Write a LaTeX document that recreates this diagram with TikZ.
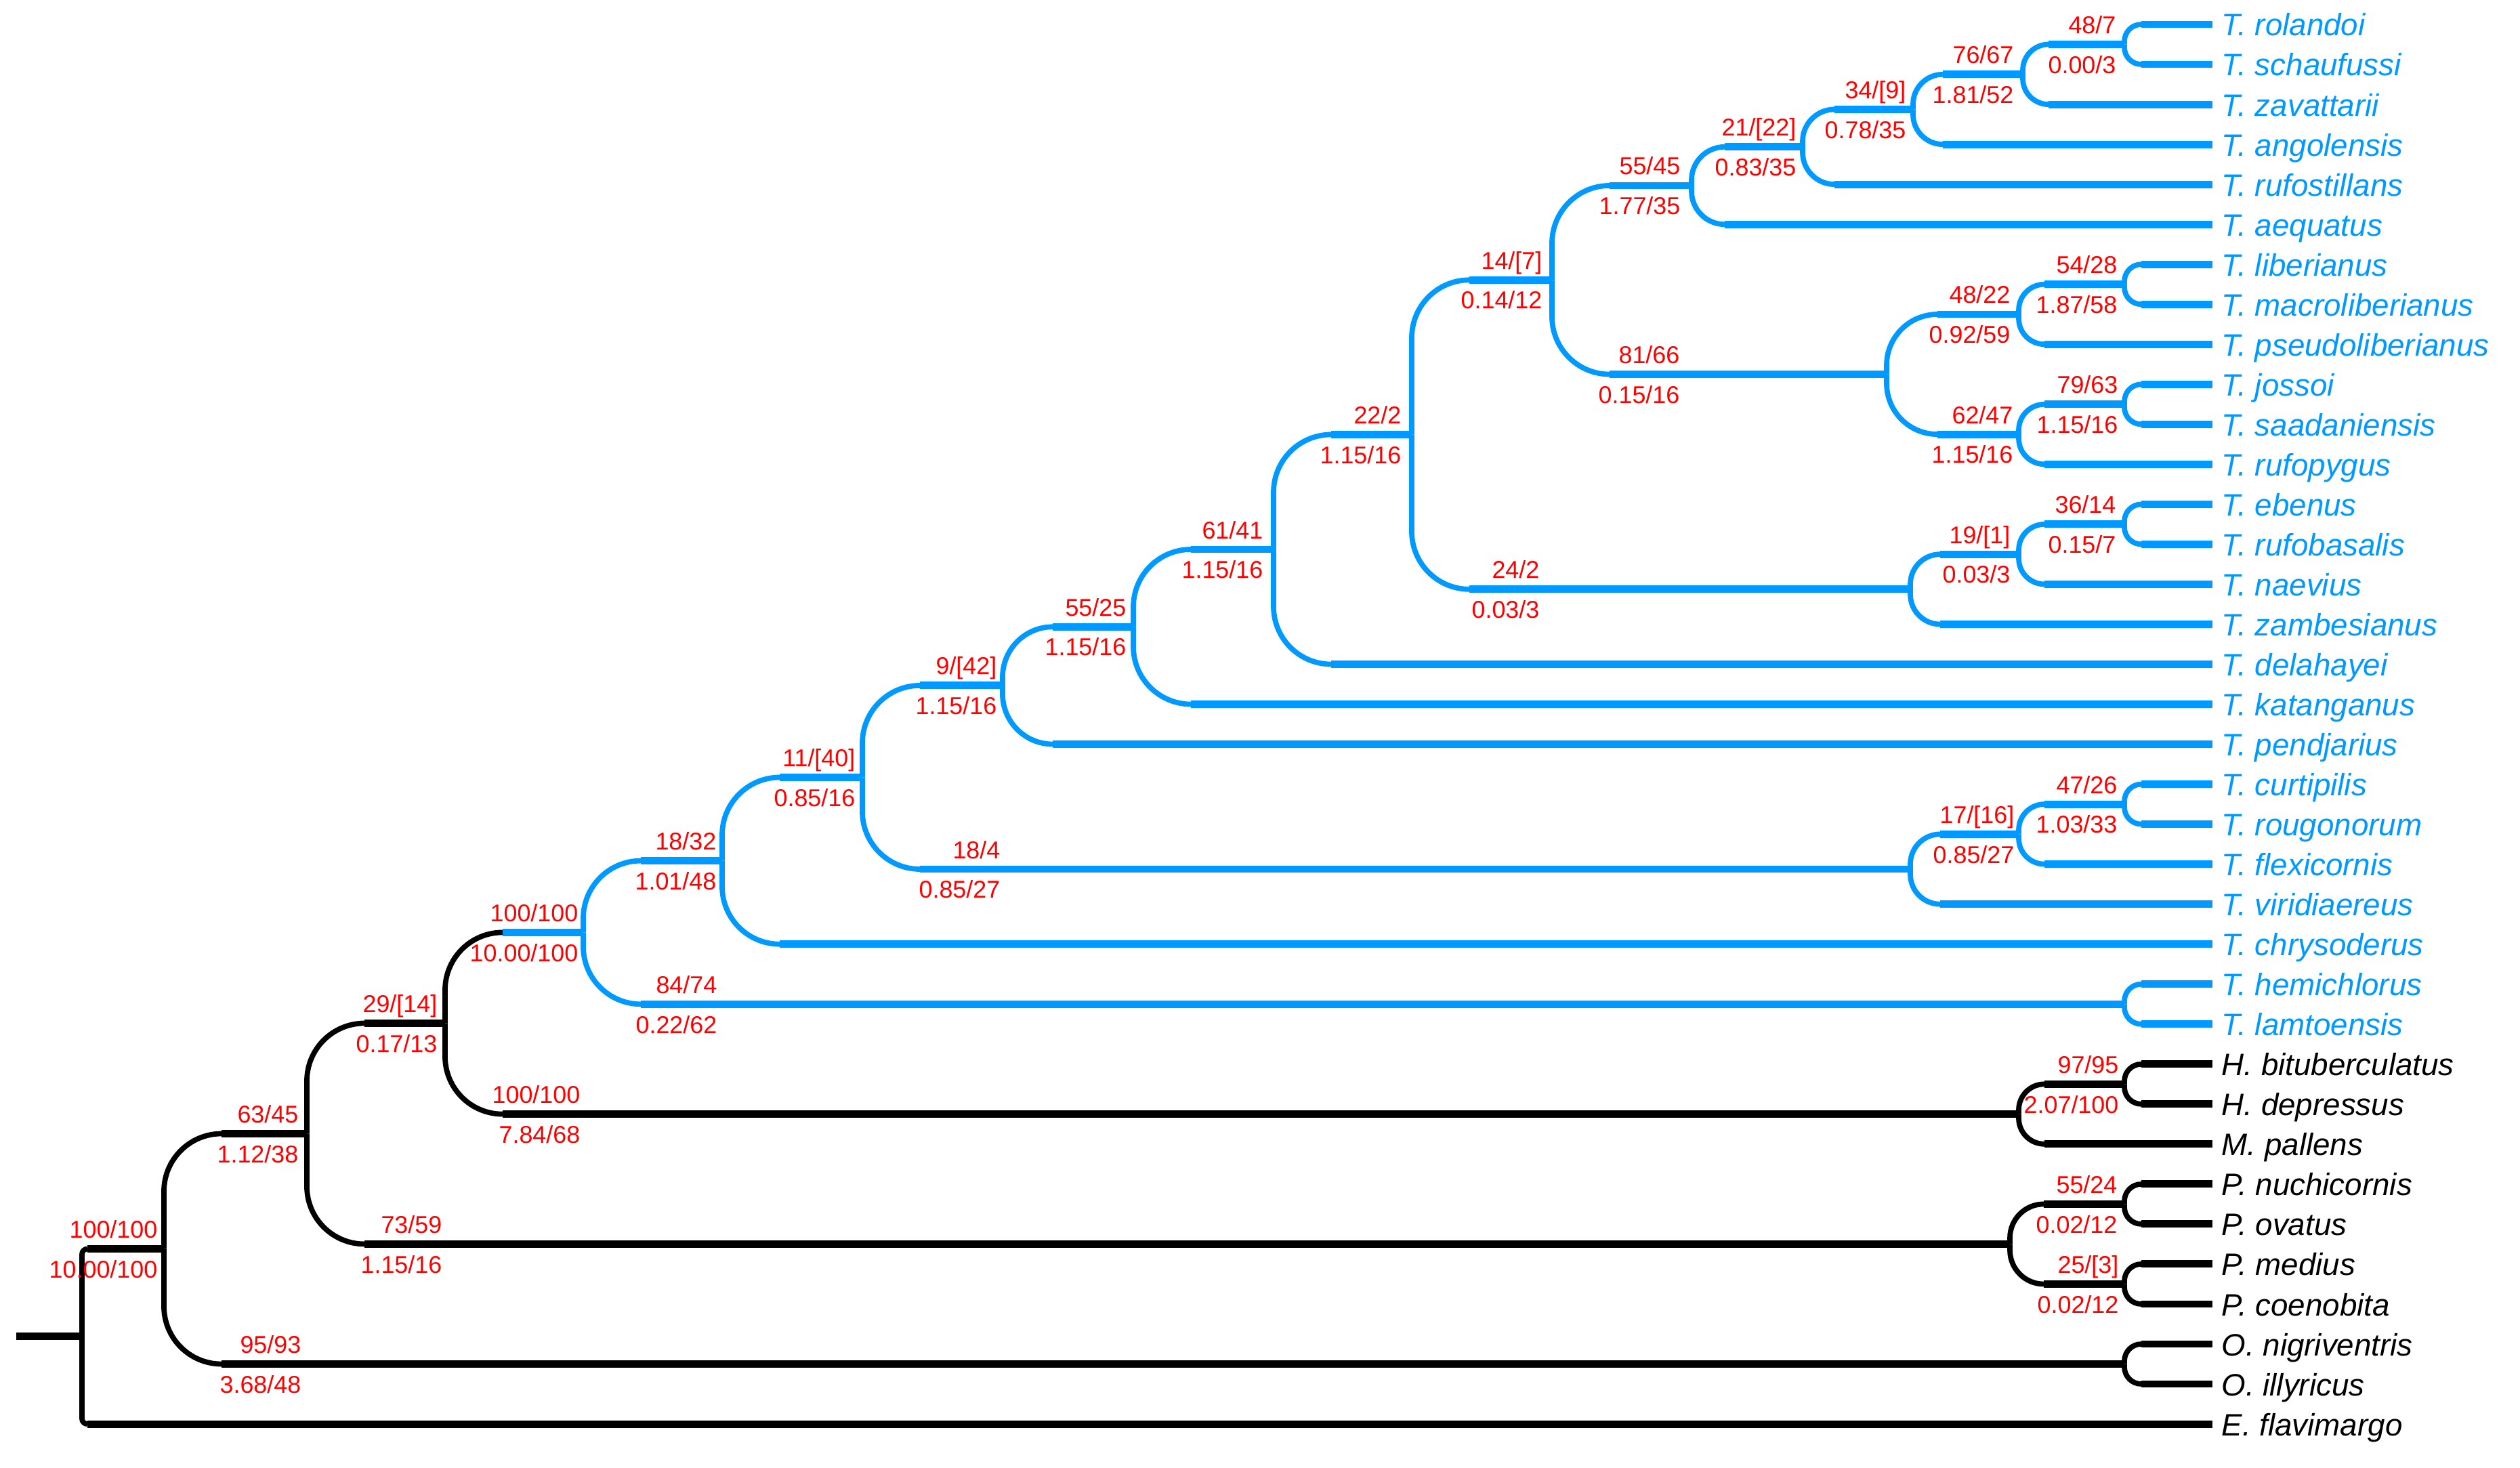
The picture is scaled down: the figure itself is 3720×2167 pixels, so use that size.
\documentclass[tikz,border=0pt]{standalone}
\usepackage{fontspec}
\setmainfont{Liberation Sans}
\usetikzlibrary{calc}
\definecolor{tblue}{RGB}{0,153,255}
\definecolor{tred}{RGB}{255,0,0}
\tikzset{
  vline/.style={line width=2.2pt},
  hline/.style={line width=3.1pt},
  lab/.style={text=tred, font=\fontsize{10.2}{12}\selectfont, inner sep=0pt},
  sp/.style={font=\fontsize{13}{15}\selectfont\itshape, inner sep=0pt, anchor=base west},
}
% branch: parent, child, radius (px), curve colour, straight colour
\newcommand\brnx[5]{%
  \draw[vline,#4,rounded corners={#3*0.01cm}] (#1) |- ($(#1 |- #2)+(#3,0)$);
  \draw[hline,#5] ($(#1 |- #2)+(#3,0)$) -- (#2);
}
\newcommand\brn[4]{\brnx{#1}{#2}{#3}{#4}{#4}}
% support labels: name, right-edge point on branch, top text, bottom text
\newcommand\lab[4]{%
  \node[lab,anchor=base east] (#1t) at ($#2+(0,-16)$) {#3};
  \node[lab,anchor=north east] (#1b) at ($#2+(0,16)$) {#4};
}
\begin{document}
\begin{tikzpicture}[x=0.01cm,y=-0.01cm]
\useasboundingbox (0,0) rectangle (3720,2167);
% leaves
\foreach \i/\yy/\nm/\c in {
 0/36.0/T. rolandoi/tblue, 1/95.0/T. schaufussi/tblue, 2/154.1/T. zavattarii/tblue,
 3/213.1/T. angolensis/tblue, 4/272.1/T. rufostillans/tblue, 5/331.2/T. aequatus/tblue,
 6/390.2/T. liberianus/tblue, 7/449.2/T. macroliberianus/tblue, 8/508.2/T. pseudoliberianus/tblue,
 9/567.3/T. jossoi/tblue, 10/626.3/T. saadaniensis/tblue, 11/685.3/T. rufopygus/tblue,
 12/744.4/T. ebenus/tblue, 13/803.4/T. rufobasalis/tblue, 14/862.4/T. naevius/tblue,
 15/921.5/T. zambesianus/tblue, 16/980.5/T. delahayei/tblue, 17/1039.5/T. katanganus/tblue,
 18/1098.5/T. pendjarius/tblue, 19/1157.6/T. curtipilis/tblue, 20/1216.6/T. rougonorum/tblue,
 21/1275.6/T. flexicornis/tblue, 22/1334.7/T. viridiaereus/tblue, 23/1393.7/T. chrysoderus/tblue,
 24/1452.7/T. hemichlorus/tblue, 25/1511.8/T. lamtoensis/tblue, 26/1570.8/H. bituberculatus/black,
 27/1629.8/H. depressus/black, 28/1688.8/M. pallens/black, 29/1747.9/P. nuchicornis/black,
 30/1806.9/P. ovatus/black, 31/1865.9/P. medius/black, 32/1925.0/P. coenobita/black,
 33/1984.0/O. nigriventris/black, 34/2043.0/O. illyricus/black, 35/2102.1/E. flavimargo/black}
{
  \coordinate (t\i) at (3266,\yy);
  \node[sp,text=\c] (L\i) at ($(t\i)+(13,17)$) {\nm};
}
% internal nodes
\coordinate (stub) at (24,1972.8);
\coordinate (root) at (121,1972.8);
\coordinate (nr) at (242,1843.5);
\coordinate (nq) at (453,1673.5);
\coordinate (no) at (657,1510.5);
\coordinate (nn) at (861,1376.4);
\coordinate (nm) at (1066,1270.6);
\coordinate (nl) at (1273,1147.5);
\coordinate (nj) at (1480,1011.9);
\coordinate (ni) at (1673,925.3);
\coordinate (nh) at (1880,811.0);
\coordinate (ng) at (2084,641.5);
\coordinate (ne) at (2291,413.3);
\coordinate (nc) at (2497,274.0);
\coordinate (nb) at (2661,216.8);
\coordinate (na) at (2824,161.45);
\coordinate (nrsz) at (2986,109.8);
\coordinate (nros) at (3136,65.5);
\coordinate (nd) at (2785,552.5);
\coordinate (nlib2) at (2980,464.0);
\coordinate (nlib) at (3136,419.7);
\coordinate (njos2) at (2980,641.1);
\coordinate (njos) at (3136,596.8);
\coordinate (nf) at (2820,869.8);
\coordinate (neb2) at (2980,818.2);
\coordinate (neb) at (3136,773.9);
\coordinate (nk) at (2820,1283.0);
\coordinate (ncu2) at (2980,1231.4);
\coordinate (ncu) at (3136,1187.1);
\coordinate (nhl) at (3136,1482.3);
\coordinate (nH2) at (2980,1644.6);
\coordinate (nH) at (3136,1600.3);
\coordinate (nP) at (2967,1836.4);
\coordinate (nP1) at (3136,1777.4);
\coordinate (nP2) at (3136,1895.5);
\coordinate (nO) at (3136,2013.5);
% black part
\draw[hline] (stub) -- (root);
\brn{root}{nr}{8}{black}
\brn{root}{t35}{8}{black}
\brn{nr}{nq}{85}{black}
\brn{nr}{nO}{85}{black}
\brn{nq}{no}{85}{black}
\brn{nq}{nP}{85}{black}
\brnx{no}{nn}{85}{black}{tblue}
\brn{no}{nH2}{85}{black}
\brn{nH2}{nH}{38}{black}
\brn{nH2}{t28}{38}{black}
\brn{nH}{t26}{25}{black}
\brn{nH}{t27}{25}{black}
\brn{nP}{nP1}{50}{black}
\brn{nP}{nP2}{50}{black}
\brn{nP1}{t29}{25}{black}
\brn{nP1}{t30}{25}{black}
\brn{nP2}{t31}{25}{black}
\brn{nP2}{t32}{25}{black}
\brn{nO}{t33}{25}{black}
\brn{nO}{t34}{25}{black}
% blue part
\brn{nn}{nm}{85}{tblue}
\brn{nn}{nhl}{85}{tblue}
\brn{nhl}{t24}{25}{tblue}
\brn{nhl}{t25}{25}{tblue}
\brn{nm}{nl}{85}{tblue}
\brn{nm}{t23}{85}{tblue}
\brn{nl}{nj}{85}{tblue}
\brn{nl}{nk}{85}{tblue}
\brn{nk}{ncu2}{44}{tblue}
\brn{nk}{t22}{44}{tblue}
\brn{ncu2}{ncu}{38}{tblue}
\brn{ncu2}{t21}{38}{tblue}
\brn{ncu}{t19}{25}{tblue}
\brn{ncu}{t20}{25}{tblue}
\brn{nj}{ni}{74}{tblue}
\brn{nj}{t18}{74}{tblue}
\brn{ni}{nh}{85}{tblue}
\brn{ni}{t17}{85}{tblue}
\brn{nh}{ng}{85}{tblue}
\brn{nh}{t16}{85}{tblue}
\brn{ng}{ne}{85}{tblue}
\brn{ng}{nf}{85}{tblue}
\brn{nf}{neb2}{44}{tblue}
\brn{nf}{t15}{44}{tblue}
\brn{neb2}{neb}{38}{tblue}
\brn{neb2}{t14}{38}{tblue}
\brn{neb}{t12}{25}{tblue}
\brn{neb}{t13}{25}{tblue}
\brn{ne}{nc}{85}{tblue}
\brn{ne}{nd}{85}{tblue}
\brn{nd}{nlib2}{75}{tblue}
\brn{nd}{njos2}{75}{tblue}
\brn{nlib2}{nlib}{38}{tblue}
\brn{nlib2}{t8}{38}{tblue}
\brn{nlib}{t6}{25}{tblue}
\brn{nlib}{t7}{25}{tblue}
\brn{njos2}{njos}{38}{tblue}
\brn{njos2}{t11}{38}{tblue}
\brn{njos}{t9}{25}{tblue}
\brn{njos}{t10}{25}{tblue}
\brn{nc}{nb}{49}{tblue}
\brn{nc}{t5}{49}{tblue}
\brn{nb}{na}{47}{tblue}
\brn{nb}{t4}{47}{tblue}
\brn{na}{nrsz}{44}{tblue}
\brn{na}{t3}{44}{tblue}
\brn{nrsz}{nros}{38}{tblue}
\brn{nrsz}{t2}{38}{tblue}
\brn{nros}{t0}{25}{tblue}
\brn{nros}{t1}{25}{tblue}
% support values
\lab{lr}{(nr)+(-9,0)}{100/100}{10.00/100}
\lab{lq}{(nq)+(-12,0)}{63/45}{1.12/38}
\lab{lo}{(no)+(-11,0)}{29/[14]}{0.17/13}
\lab{lP}{(nq |- nP)+(200,0)}{73/59}{1.15/16}
\lab{lO}{(nr |- nO)+(203,0)}{95/93}{3.68/48}
\lab{lHH}{(no |- nH2)+(200,0)}{100/100}{7.84/68}
\lab{lH}{(nH)+(-8,0)}{97/95}{2.07/100}
\lab{lPa}{(nP1)+(-10,0)}{55/24}{0.02/12}
\lab{lPb}{(nP2)+(-8,0)}{25/[3]}{0.02/12}
\lab{ln}{(nn)+(-7,0)}{100/100}{10.00/100}
\lab{lhl}{(nn |- nhl)+(198,0)}{84/74}{0.22/62}
\lab{lm}{(nm)+(-8,0)}{18/32}{1.01/48}
\lab{ll}{(nl)+(-10,0)}{11/[40]}{0.85/16}
\lab{lk}{(nl |- nk)+(204,0)}{18/4}{0.85/27}
\lab{lcuu}{(ncu2)+(-6,0)}{17/[16]}{0.85/27}
\lab{lcu}{(ncu)+(-10,0)}{47/26}{1.03/33}
\lab{lj}{(nj)+(-8,0)}{9/[42]}{1.15/16}
\lab{li}{(ni)+(-10,0)}{55/25}{1.15/16}
\lab{lh}{(nh)+(-15,0)}{61/41}{1.15/16}
\lab{lg}{(ng)+(-15,0)}{22/2}{1.15/16}
\lab{lf}{(ng |- nf)+(189,0)}{24/2}{0.03/3}
\lab{lebb}{(neb2)+(-12,0)}{19/[1]}{0.03/3}
\lab{leb}{(neb)+(-12,0)}{36/14}{0.15/7}
\lab{le}{(ne)+(-14,0)}{14/[7]}{0.14/12}
\lab{ld}{(ne |- nd)+(189,0)}{81/66}{0.15/16}
\lab{llibb}{(nlib2)+(-12,0)}{48/22}{0.92/59}
\lab{llib}{(nlib)+(-10,0)}{54/28}{1.87/58}
\lab{ljoss}{(njos2)+(-8,0)}{62/47}{1.15/16}
\lab{ljos}{(njos)+(-9,0)}{79/63}{1.15/16}
\lab{lc}{(nc)+(-16,0)}{55/45}{1.77/35}
\lab{lb}{(nb)+(-9,0)}{21/[22]}{0.83/35}
\lab{la}{(na)+(-10,0)}{34/[9]}{0.78/35}
\lab{lrsz}{(nrsz)+(-13,0)}{76/67}{1.81/52}
\lab{lros}{(nros)+(-12,0)}{48/7}{0.00/3}
\end{tikzpicture}
\end{document}
